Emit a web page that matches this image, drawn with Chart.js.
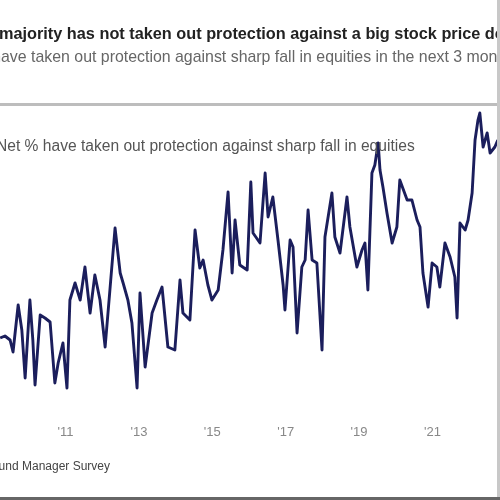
<!DOCTYPE html>
<html>
<head>
<meta charset="utf-8">
<script src="https://cdn.jsdelivr.net/npm/chart.js@4"></script>
<style>
  html, body { margin: 0; padding: 0; background: #fff; }
  #wrap { position: relative; width: 500px; height: 500px; overflow: hidden; }
</style>
</head>
<body>
<div id="wrap"><canvas id="c" width="500" height="500"></canvas></div>
<script>
// ---- data ----
const titleText = "The majority has not taken out protection against a big stock price decline";
const subtitleText = "Net % have taken out protection against sharp fall in equities in the next 3 months";
const seriesLabel = "Net % have taken out protection against sharp fall in equities";
const sourceText = "Source: BofA Global Fund Manager Survey";

const tickYears = [2011, 2013, 2015, 2017, 2019, 2021];
const edgeYears = [2009, 2023];

const dates = [
  2009.22, 2009.35, 2009.49, 2009.57, 2009.71, 2009.81, 2009.90, 2010.03, 2010.11, 2010.17,
  2010.31, 2010.44, 2010.58, 2010.71, 2010.80, 2010.93, 2011.04, 2011.12, 2011.26, 2011.40,
  2011.53, 2011.67, 2011.80, 2011.94, 2012.08, 2012.21, 2012.35, 2012.49, 2012.57, 2012.70,
  2012.81, 2012.95, 2013.03, 2013.17, 2013.36, 2013.49, 2013.63, 2013.79, 2013.98, 2014.12,
  2014.20, 2014.39, 2014.53, 2014.66, 2014.75, 2014.88, 2014.99, 2015.16, 2015.29, 2015.43,
  2015.54, 2015.62, 2015.75, 2015.95, 2016.05, 2016.11, 2016.30, 2016.44, 2016.52, 2016.65,
  2016.79, 2016.93, 2016.98, 2017.12, 2017.20, 2017.31, 2017.44, 2017.53, 2017.61, 2017.72,
  2017.85, 2017.99, 2018.07, 2018.26, 2018.34, 2018.48, 2018.67, 2018.75, 2018.94, 2019.08,
  2019.16, 2019.24, 2019.35, 2019.43, 2019.52, 2019.57, 2019.65, 2019.76, 2019.90, 2020.03,
  2020.11, 2020.31, 2020.44, 2020.58, 2020.66, 2020.74, 2020.88, 2020.99, 2021.12, 2021.20,
  2021.34, 2021.48, 2021.61, 2021.67, 2021.75, 2021.89, 2021.97, 2022.08, 2022.16, 2022.24,
  2022.29, 2022.38, 2022.49, 2022.57, 2022.70, 2022.78
];
const netPct = [
  -63.6, -63.2, -64.0, -66.4, -57.0, -62.0, -71.6, -56.0, -64.0, -73.0,
  -59.0, -59.6, -60.4, -72.6, -68.6, -64.6, -73.6, -56.0, -52.6, -56.0,
  -49.4, -58.6, -51.0, -56.0, -65.4, -54.0, -41.6, -50.6, -52.6, -56.0,
  -60.6, -73.6, -54.6, -69.4, -58.6, -56.0, -53.4, -65.4, -66.0, -52.0,
  -58.6, -60.0, -42.0, -49.6, -48.0, -53.0, -56.0, -54.0, -46.0, -34.4,
  -50.6, -40.0, -49.0, -50.0, -32.4, -42.6, -44.6, -30.6, -39.4, -35.4,
  -44.0, -53.0, -58.0, -44.0, -45.4, -62.6, -49.4, -48.0, -38.0, -48.0,
  -48.6, -66.0, -43.4, -34.6, -43.4, -46.6, -35.4, -41.4, -49.4, -46.0,
  -44.6, -54.0, -30.6, -29.0, -24.6, -30.0, -33.4, -38.6, -44.6, -41.4,
  -32.0, -36.0, -36.0, -40.0, -41.4, -50.6, -57.4, -48.6, -49.4, -53.4,
  -44.6, -47.4, -51.4, -59.6, -40.6, -42.0, -40.0, -34.6, -24.0, -20.0,
  -18.6, -25.4, -22.6, -26.6, -25.4, -24.0
];

const FONT = "'Liberation Sans', Arial, sans-serif";
const yearLabel = v => "'" + String(v).slice(2);

const decor = {
  id: 'decor',
  afterDraw(chart) {
    const ctx = chart.ctx;
    const xs = chart.scales.x;
    ctx.save();
    ctx.textBaseline = 'middle';
    // title (cropped at left)
    ctx.font = "bold 16.3px " + FONT;
    ctx.fillStyle = '#222';
    ctx.textAlign = 'left';
    let off = ctx.measureText("The ").width;
    ctx.fillText(titleText, -1 - off, 35);
    // subtitle
    ctx.font = "15.9px " + FONT;
    ctx.fillStyle = '#666';
    off = ctx.measureText("Net % h").width;
    ctx.fillText(subtitleText, 1 - off, 58);
    // separator
    ctx.fillStyle = '#bdbdbd';
    ctx.fillRect(0, 103, 500, 3);
    // series label
    ctx.font = "15.6px " + FONT;
    ctx.fillStyle = '#555';
    ctx.fillText(seriesLabel, -4, 147);
    // edge tick labels
    ctx.font = "13px " + FONT;
    ctx.fillStyle = '#888';
    ctx.textAlign = 'center';
    edgeYears.forEach(y => ctx.fillText(yearLabel(y), xs.getPixelForValue(y), 432));
    // source
    ctx.font = "12px " + FONT;
    ctx.fillStyle = '#444';
    ctx.textAlign = 'right';
    ctx.fillText(sourceText, 110, 467);
    // frame edges
    ctx.fillStyle = '#c8c8c8';
    ctx.fillRect(497, 0, 3, 500);
    ctx.fillStyle = '#666';
    ctx.fillRect(0, 497, 500, 3);
    ctx.restore();
  }
};

new Chart(document.getElementById('c'), {
  type: 'line',
  data: {
    datasets: [{
      label: seriesLabel,
      data: dates.map((d, i) => ({ x: d, y: netPct[i] })),
      borderColor: '#1b1e5c',
      borderWidth: 2.9,
      borderJoinStyle: 'round',
      pointRadius: 0,
      tension: 0,
      fill: false
    }]
  },
  options: {
    responsive: false,
    animation: false,
    devicePixelRatio: 1,
    layout: { padding: { top: 105, bottom: 29.4, left: 0, right: 0 } },
    plugins: { legend: { display: false }, title: { display: false }, tooltip: { enabled: false } },
    scales: {
      x: {
        type: 'linear',
        min: 2009.215,
        max: 2022.84,
        afterBuildTicks: s => { s.ticks = tickYears.map(v => ({ value: v })); },
        grid: { display: false, drawTicks: false },
        border: { display: false },
        ticks: {
          padding: 30,
          color: '#888',
          font: { family: FONT, size: 13 },
          maxRotation: 0,
          autoSkip: false,
          callback: v => yearLabel(v)
        }
      },
      y: {
        display: false,
        min: -75,
        max: -17
      }
    }
  },
  plugins: [decor]
});
</script>
</body>
</html>
